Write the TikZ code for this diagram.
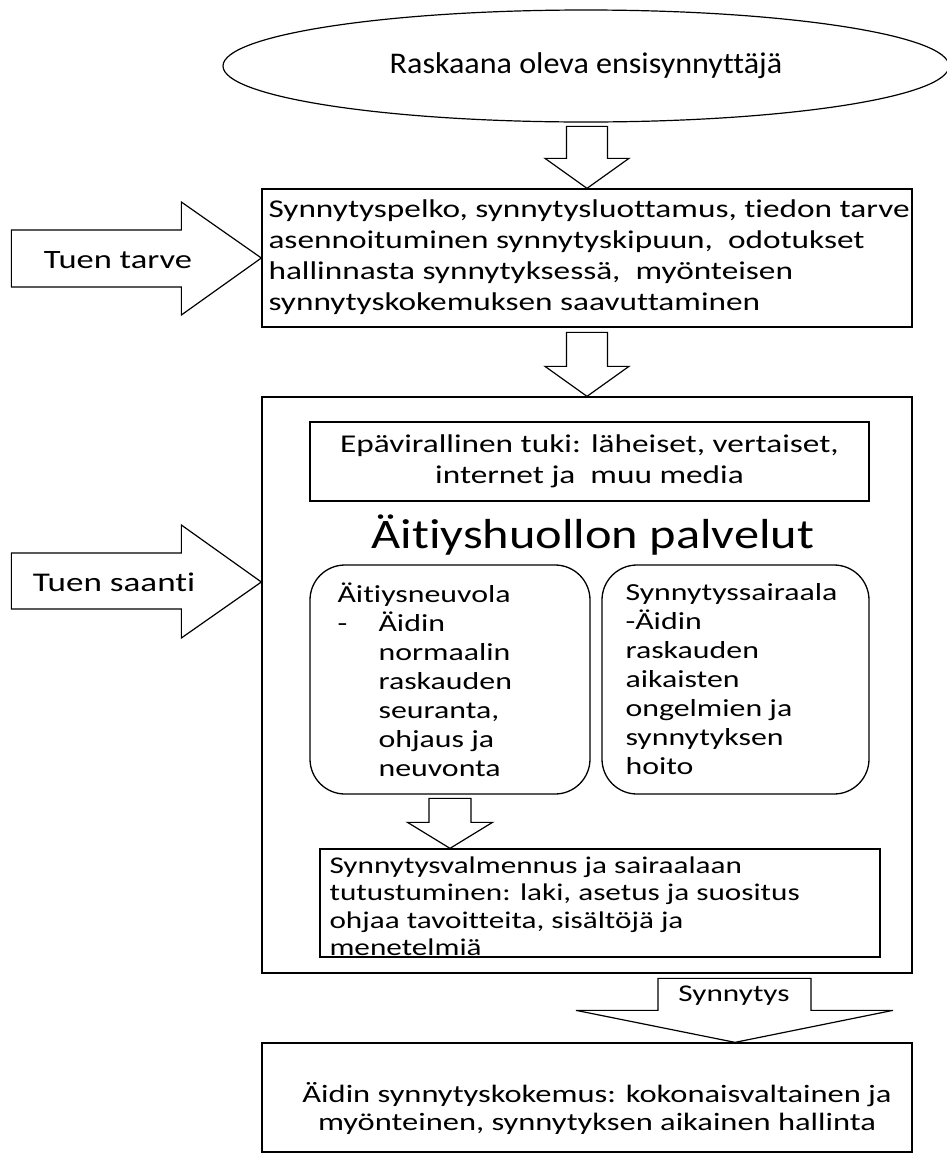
\documentclass[tikz,border=0pt]{standalone}
\usepackage{fontspec}
\setmainfont[Ligatures=NoCommon]{Carlito}
\newfontfamily\plainfont[FakeStretch=1.07,Ligatures=NoCommon]{Carlito}
\newfontfamily\titlefont[FakeStretch=1.2,Ligatures=NoCommon]{Carlito}
\newfontfamily\widefont[FakeStretch=1.3,Ligatures=NoCommon]{Carlito}
\usetikzlibrary{shapes.geometric,positioning,calc}

\tikzset{
  box/.style={draw, line width=1.3pt, inner sep=0pt},
  roundbox/.style={box, rounded corners=35pt},
  blockarrow/.style={draw, line width=1.2pt, fill=white, line join=miter},
  bodytext/.style={font=\widefont\fontsize{25.6}{31}\selectfont, inner sep=0pt},
  listtext/.style={font=\widefont\fontsize{24.5}{29}\selectfont, inner sep=0pt},
  preptext/.style={font=\widefont\fontsize{24}{27.5}\selectfont, inner sep=0pt}
}

\begin{document}
\begin{tikzpicture}[x=1pt,y=-1pt]
    \fill[white] (0,0) rectangle (946,1157);
    \useasboundingbox (0,0) rectangle (946,1157);

    % mother and need of support
    \node[ellipse, draw, line width=1.2pt, minimum width=726pt, minimum height=112pt,
          font=\plainfont\fontsize{30}{36}\selectfont] (mother) at (586,66) {Raskaana oleva ensisynnyttäjä};
    \node[box, minimum width=650pt, minimum height=138pt] (need) at (587,258) {};
    \node[bodytext, anchor=west, align=left] (needtext) at ($(need.west)+(7,-1)$)
        {Synnytyspelko, synnytysluottamus, tiedon tarve\\
         asennoituminen synnytyskipuun, \ odotukset\\
         hallinnasta synnytyksessä, \ myönteisen\\
         synnytyskokemuksen saavuttaminen};

    \draw[blockarrow] (need.north) -- ++(-42,-30) -- ++(21.5,0) -- ++(0,-32) -- ++(41,0)
        -- ++(0,32) -- ++(21.5,0) -- cycle;

    \draw[blockarrow] (need.west) -- ++(-80,-56) -- ++(0,28) -- ++(-170,0) -- ++(0,57)
        -- ++(170,0) -- ++(0,28) -- cycle;
    \node[font=\widefont\fontsize{26.5}{32}\selectfont] (needlabel) at (118,260) {Tuen tarve};

    % maternity services
    \node[box, minimum width=650pt, minimum height=576pt] (services) at (587,685) {};

    \draw[blockarrow] (services.north) -- ++(-42,-30) -- ++(21.5,0) -- ++(0,-34) -- ++(41,0)
        -- ++(0,34) -- ++(21.5,0) -- cycle;

    \coordinate (gettip) at ($(services.west)+(0,-103)$);
    \draw[blockarrow] (gettip) -- ++(-80,-57) -- ++(0,28) -- ++(-170,0) -- ++(0,56)
        -- ++(170,0) -- ++(0,29) -- cycle;
    \node[font=\widefont\fontsize{27}{32}\selectfont] (getlabel) at (114,582) {Tuen saanti};

    \node[box, bodytext, align=center, minimum width=559pt, minimum height=79pt] (informal) at (589.5,461.5)
        {Epävirallinen tuki: läheiset, vertaiset,\\ internet ja \ muu media};

    \node[font=\titlefont\fontsize{42}{48}\selectfont] (title) at (593,535) {Äitiyshuollon palvelut};

    \node[roundbox, minimum width=280pt, minimum height=229pt] (clinic) at (450,679.5) {};
    \node[listtext, anchor=west, align=left] (clinictext) at ($(clinic.west)+(28,0)$)
        {Äitiysneuvola\\
         \makebox[41pt][l]{-}Äidin\\
         \hspace*{41pt}normaalin\\
         \hspace*{41pt}raskauden\\
         \hspace*{41pt}seuranta,\\
         \hspace*{41pt}ohjaus ja\\
         \hspace*{41pt}neuvonta};

    \node[roundbox, minimum width=267pt, minimum height=229pt] (hospital) at (735.5,679.5) {};
    \node[listtext, anchor=west, align=left] (hospitaltext) at ($(hospital.west)+(24,0)$)
        {Synnytyssairaala\\
         -Äidin\\
         raskauden\\
         aikaisten\\
         ongelmien ja\\
         synnytyksen\\
         hoito};

    % preparation
    \node[box, minimum width=560pt, minimum height=108pt] (prep) at (600,903) {};
    \node[preptext, anchor=west, align=left] (preptext) at ($(prep.west)+(10,3)$)
        {Synnytysvalmennus ja sairaalaan\\
         tutustuminen: laki, asetus ja suositus\\
         ohjaa tavoitteita, sisältöjä ja\\
         menetelmiä};

    \coordinate (preptip) at (clinic.south |- prep.north);
    \draw[blockarrow] (preptip) -- ++(-42.5,-26) -- ++(21.5,0) -- ++(0,-24) -- ++(42,0)
        -- ++(0,24) -- ++(21.5,0) -- cycle;

    % birth experience
    \node[box, minimum width=650pt, minimum height=109pt] (experience) at (587,1097.5) {};
    \node[bodytext, align=center, font=\widefont\fontsize{25}{28}\selectfont] (exptext) at (597,1108)
        {Äidin synnytyskokemus: kokonaisvaltainen ja\\
         myönteinen, synnytyksen aikainen hallinta};

    \coordinate (birthtip) at ($(experience.north)+(148,0)$);
    \draw[blockarrow] (birthtip) -- ++(-159,-32) -- ++(82,0) -- ++(0,-32) -- ++(153,0)
        -- ++(0,32) -- ++(82,0) -- cycle;
    \node[font=\widefont\fontsize{24}{28}\selectfont] (birthlabel) at (734,996) {Synnytys};
\end{tikzpicture}
\end{document}
